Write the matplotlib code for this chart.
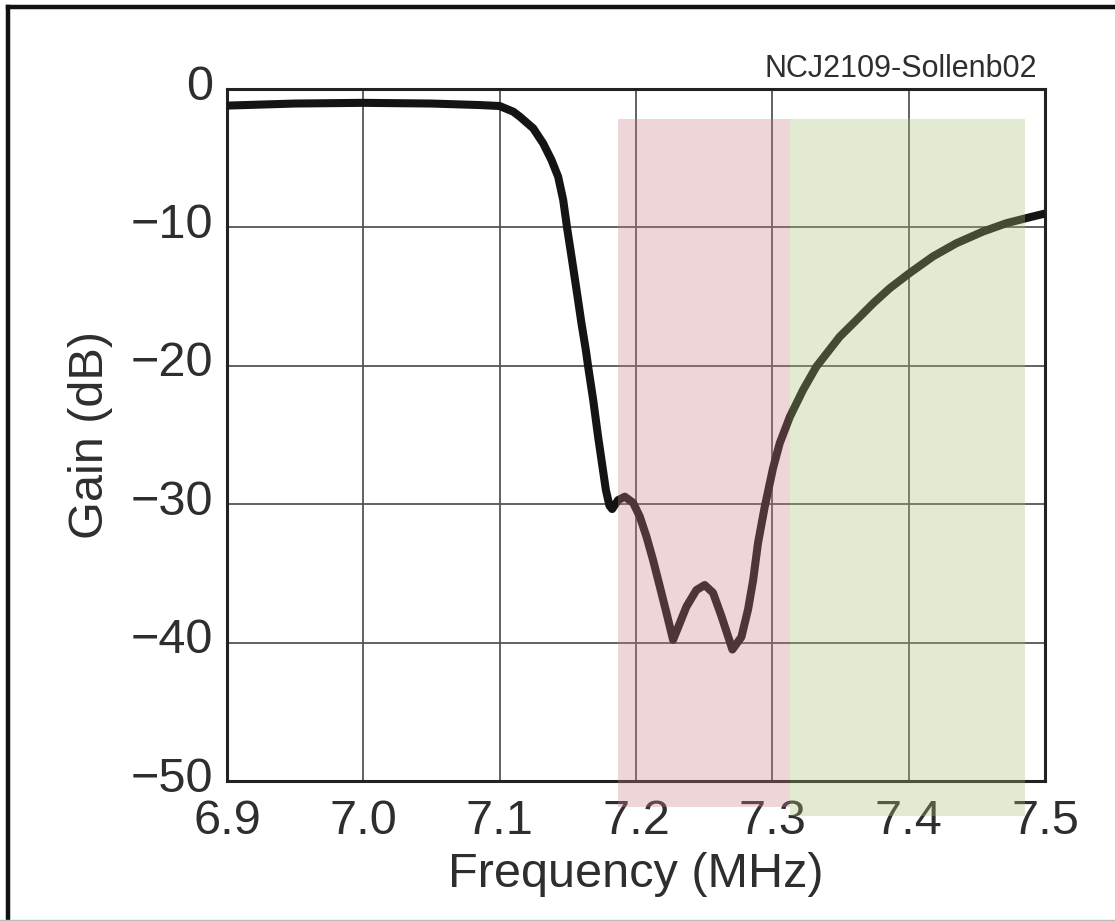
import matplotlib
matplotlib.use("Agg")
import matplotlib.pyplot as plt
from matplotlib.patches import Rectangle
from matplotlib.lines import Line2D
from matplotlib.transforms import ScaledTranslation

plt.rcParams['font.family'] = ['Liberation Sans', 'DejaVu Sans']

freq = [6.90, 6.95, 7.00, 7.05, 7.0855, 7.10, 7.110, 7.1148, 7.1246, 7.1319,
        7.138, 7.1429, 7.1466, 7.1495, 7.1527, 7.1564, 7.160, 7.1632, 7.1649,
        7.1686, 7.1722, 7.1754, 7.1779, 7.1805, 7.1825, 7.1869, 7.1918,
        7.1979, 7.2028, 7.2077, 7.2125, 7.2175, 7.2224, 7.2272, 7.2321,
        7.237, 7.2443, 7.2504, 7.2565, 7.2627, 7.2707, 7.2773, 7.2822,
        7.2859, 7.2895, 7.2944, 7.3005, 7.3054, 7.3128, 7.3225, 7.3323,
        7.3494, 7.3617, 7.3738, 7.3861, 7.4007, 7.4178, 7.4349, 7.4545,
        7.4716, 7.4887, 7.50]
gain = [-1.2, -1.05, -1.0, -1.05, -1.16, -1.23, -1.64, -2.0, -2.84, -3.93,
        -5.13, -6.34, -8.02, -10.07, -12.11, -14.52, -16.93, -18.86, -20.06,
        -22.47, -25.12, -27.29, -28.97, -30.1, -30.35, -29.7, -29.46,
        -29.9, -30.9, -32.35, -34.03, -35.96, -37.88, -39.8, -38.6,
        -37.4, -36.2, -35.84, -36.4, -38.1, -40.5, -39.6, -37.6,
        -35.5, -32.8, -30.2, -27.4, -25.6, -23.7, -21.75, -20.06,
        -17.9, -16.7, -15.5, -14.4, -13.3, -12.1, -11.15, -10.3,
        -9.7, -9.27, -9.0]

# shaded bands: (x0, x1, y_top, y_bottom)
stopband = [7.1867, 7.3128, -2.17, -51.9]
passband = [7.3128, 7.485, -2.17, -52.5]

xticks = [6.9, 7.0, 7.1, 7.2, 7.3, 7.4, 7.5]
xtick_labels = ['6.9', '7.0', '7.1', '7.2', '7.3', '7.4', '7.5']
yticks = [0, -10, -20, -30, -40, -50]

txt = '#2e2e2e'
fig = plt.figure(figsize=(11.15, 9.21), dpi=100)
ax = fig.add_axes([227/1115, 1 - 781/921, 818/1115, 692/921])

ax.plot(freq, gain, color='#141414', lw=5.8, solid_joinstyle='round',
        solid_capstyle='butt', zorder=3)

for band, col in [(stopband, '#c87d87'), (passband, '#a7c175')]:
    r = Rectangle((band[0], band[3]), band[1] - band[0], band[2] - band[3],
                  facecolor=col, edgecolor='none', alpha=0.32, clip_on=False, zorder=4)
    ax.add_patch(r)

ax.set_xlim(6.9, 7.5)
ax.set_ylim(-50, 0)
ax.set_xticks(xticks)
ax.set_xticklabels(xtick_labels)
ax.set_yticks(yticks)
ax.grid(True, color='#555555', lw=1.3, zorder=1)
ax.set_axisbelow(True)
ax.tick_params(length=0, labelsize=35, labelcolor=txt)
ax.tick_params(axis='x', pad=13)
ax.tick_params(axis='y', pad=10)
for s in ax.spines.values():
    s.set_linewidth(2.2)
    s.set_color('#222222')

off = ScaledTranslation(0, 7/100, fig.dpi_scale_trans)
for lab in ax.get_yticklabels():
    lab.set_transform(lab.get_transform() + off)

ax.set_xlabel('Frequency (MHz)', fontsize=35, color=txt)
ax.set_ylabel('Gain (dB)', fontsize=35, color=txt)
ax.xaxis.set_label_coords(0.5, -0.1026)
ax.yaxis.set_label_coords(-0.1394, 0.5)

fig.text(1037/1115, 1 - 77/921, 'NCJ2109-Sollenb02', fontsize=22, color=txt,
         ha='right', va='baseline')

# outer frame: heavy left and top edges, faint bottom edge
fig.add_artist(Line2D([8/1115, 8/1115], [0, 1 - 7/921], color='#111111', lw=3.2))
fig.add_artist(Line2D([8/1115, 1], [1 - 7/921, 1 - 7/921], color='#111111', lw=3.2))
fig.add_artist(Line2D([0, 1], [1/921, 1/921], color='#bbbbbb', lw=1))

fig.savefig('out.png', dpi=100)
